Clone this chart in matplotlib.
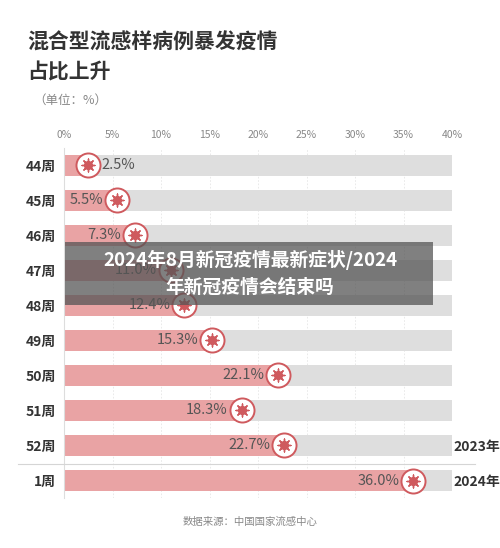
import matplotlib
matplotlib.use("Agg")
import matplotlib.pyplot as plt
from matplotlib.patches import Rectangle

plt.rcParams['font.family'] = ['Noto Sans CJK SC', 'DejaVu Sans']

weeks = ["44周", "45周", "46周", "47周", "48周", "49周", "50周", "51周", "52周", "1周"]
values = [2.5, 5.5, 7.3, 11.0, 12.4, 15.3, 22.1, 18.3, 22.7, 36.0]
ticks = [0, 5, 10, 15, 20, 25, 30, 35, 40]
tick_labels = [f"{t}%" for t in ticks]

red = "#e9a3a4"
edge = "#cf5a5e"
grey_bar = "#dedede"

fig = plt.figure(figsize=(5, 5.48), dpi=100)
fig.patch.set_facecolor("white")
ax = fig.add_axes([0.128, 0.0912, 0.776, 0.639])
ax.set_xlim(0, 40)
ax.set_ylim(9.5, -0.5)
y = list(range(len(weeks)))
ax.barh(y, [40] * len(y), height=0.58, color=grey_bar, zorder=1)
ax.barh(y, values, height=0.58, color=red, zorder=2)
for t in ticks:
    ax.axvline(t, color="#e6e6e6", lw=0.6, ls=(0, (2, 2)), zorder=0)
for i, v in enumerate(values):
    ax.scatter(v, i, s=300, facecolor="white", edgecolor=edge, linewidth=1.4, zorder=4)
    ax.scatter(v, i, s=85, marker=(8, 2, 0), color=edge, linewidth=1.0, zorder=5)
    ax.scatter(v, i, s=32, color=edge, zorder=6)
    if i == 0:
        ax.text(v + 1.4, i, f"{v:.1f}%", ha="left", va="center", fontsize=10.5, color="#555555", zorder=6)
    else:
        ax.text(v - 1.4, i, f"{v:.1f}%", ha="right", va="center", fontsize=10.5, color="#555555", zorder=6)
ax.set_yticks(y)
ax.set_yticklabels(weeks, fontsize=10, fontweight="bold", color="#333333")
ax.xaxis.tick_top()
ax.set_xticks(ticks)
ax.set_xticklabels(tick_labels, fontsize=7.5, color="#888888")
ax.tick_params(length=0, pad=6)
for s in ["top", "right", "bottom"]:
    ax.spines[s].set_visible(False)
ax.spines["left"].set_color("#dddddd")

fig.add_artist(plt.Line2D([18/500, 475/500], [1-464/548]*2, color="#d5d5d5", lw=0.8))
fig.text(453/500, 1-447/548, "2023年", ha="left", va="center", fontsize=10, fontweight="bold", color="#333333")
fig.text(453/500, 1-482/548, "2024年", ha="left", va="center", fontsize=10, fontweight="bold", color="#333333")

fig.text(27/500, 1-42/548, "混合型流感样病例暴发疫情", fontsize=15, fontweight="bold", color="#333333", va="center")
fig.text(27/500, 1-72/548, "占比上升", fontsize=15, fontweight="bold", color="#333333", va="center")
fig.text(33/500, 1-100/548, "（单位：%）", fontsize=9, color="#888888", va="center")
fig.text(0.5, 1-522/548, "数据来源：中国国家流感中心", fontsize=7.5, color="#888888", ha="center", va="center")

fig.add_artist(Rectangle((65/500, 1-305/548), 368/500, 63/548, transform=fig.transFigure,
                         facecolor="#555555", alpha=0.75, zorder=10))
fig.text(0.5, 1-260/548, "2024年8月新冠疫情最新症状/2024", fontsize=13.5, fontweight="bold",
         color="white", ha="center", va="center", zorder=11)
fig.text(0.5, 1-287/548, "年新冠疫情会结束吗", fontsize=13.5, fontweight="bold",
         color="white", ha="center", va="center", zorder=11)

fig.savefig("out.png", dpi=100)
